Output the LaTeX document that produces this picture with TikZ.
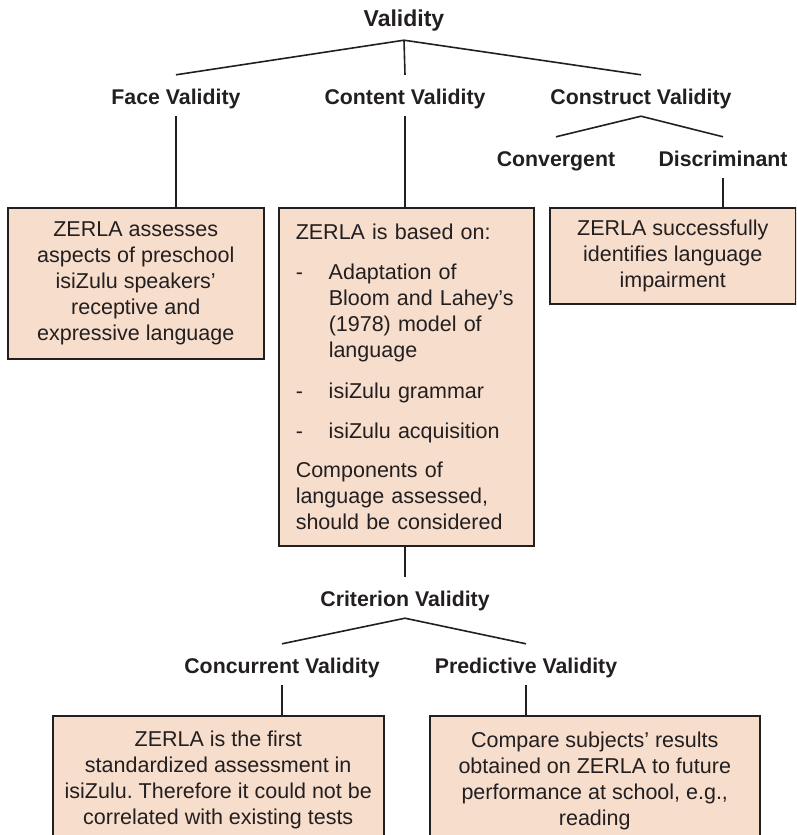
\documentclass[tikz,border=0pt]{standalone}
\usepackage{fontspec}
\setmainfont{Liberation Sans}
\definecolor{boxfill}{RGB}{246,221,204}
\definecolor{ink}{RGB}{35,31,32}
\frenchspacing
\begin{document}
\begin{tikzpicture}[x=1pt,y=-1pt,
  hdr/.style={font=\bfseries\fontsize{21.3}{25}\selectfont, text=ink, inner sep=0pt, anchor=base, text height=29pt, text depth=12pt},
  conn/.style={draw=ink, line width=1.6pt},
  boxnode/.style={draw=ink, line width=1.5pt, fill=boxfill, text=ink, font=\fontsize{21.5}{26}\selectfont, inner sep=0pt, anchor=north west},
]
\useasboundingbox (0,0) rectangle (796,835);
\clip (0,0) rectangle (796,835);

% headers
\node[hdr, font=\bfseries\fontsize{23}{27}\selectfont, text height=20pt, text depth=13pt] (val) at (404,27) {Validity};
\node[hdr] (face) at (176,104) {Face Validity};
\node[hdr] (content) at (405,104) {Content Validity};
\node[hdr] (construct) at (641,104) {Construct Validity};
\node[hdr] (conv) at (556,166) {Convergent};
\node[hdr] (disc) at (723,166) {Discriminant};
\node[hdr] (crit) at (405,606) {Criterion Validity};
\node[hdr] (conc) at (282,673) {Concurrent Validity};
\node[hdr] (pred) at (526,673) {Predictive Validity};

% boxes
\node[boxnode, minimum width=256pt, minimum height=151pt, align=center] (facebox) at (7,207)
  {ZERLA assesses\\aspects of preschool\\isiZulu speakers’\\receptive and\\expressive language};

\node[boxnode, minimum width=255pt, minimum height=338pt, align=left, inner xsep=17pt, text width=221pt] (contentbox) at (278,207)
  {ZERLA is based on:\\[14pt]
   \makebox[33pt][l]{-}Adaptation of\\
   \hspace*{33pt}Bloom and Lahey’s\\
   \hspace*{33pt}(1978) model of\\
   \hspace*{33pt}language\\[15pt]
   \makebox[33pt][l]{-}isiZulu grammar\\[14pt]
   \makebox[33pt][l]{-}isiZulu acquisition\\[13pt]
   Components of\\
   language assessed,\\
   should be considered};

\node[boxnode, minimum width=246pt, minimum height=96pt, align=center] (discbox) at (549,207)
  {ZERLA successfully\\identifies language\\impairment};

\node[boxnode] (concbox) at (52,715)
  {\begin{minipage}[t][160pt][t]{331pt}\centering\vspace*{15pt}%
   ZERLA is the first\\standardized assessment in\\isiZulu. Therefore it could not be\\correlated with existing tests\end{minipage}};

\node[boxnode] (predbox) at (429,715)
  {\begin{minipage}[t][160pt][t]{330pt}\centering\vspace*{16pt}%
   Compare subjects’ results\\obtained on ZERLA to future\\performance at school, e.g.,\\reading\end{minipage}};

% connectors
\draw[conn] (val.south) -- (face.north);
\draw[conn] (val.south) -- (content.north);
\draw[conn] (val.south) -- (construct.north);
\draw[conn] (face.south) -- (face.south |- facebox.north);
\draw[conn] (content.south) -- (content.south |- contentbox.north);
\draw[conn] (construct.south) -- (conv.north);
\draw[conn] (construct.south) -- (disc.north);
\draw[conn] (disc.south) -- (disc.south |- discbox.north);
\draw[conn] (crit.north |- contentbox.south) -- (crit.north);
\draw[conn] (crit.south) -- (conc.north);
\draw[conn] (crit.south) -- (pred.north);
\draw[conn] (conc.south) -- (conc.south |- concbox.north);
\draw[conn] (pred.south) -- (pred.south |- predbox.north);
\end{tikzpicture}
\end{document}
